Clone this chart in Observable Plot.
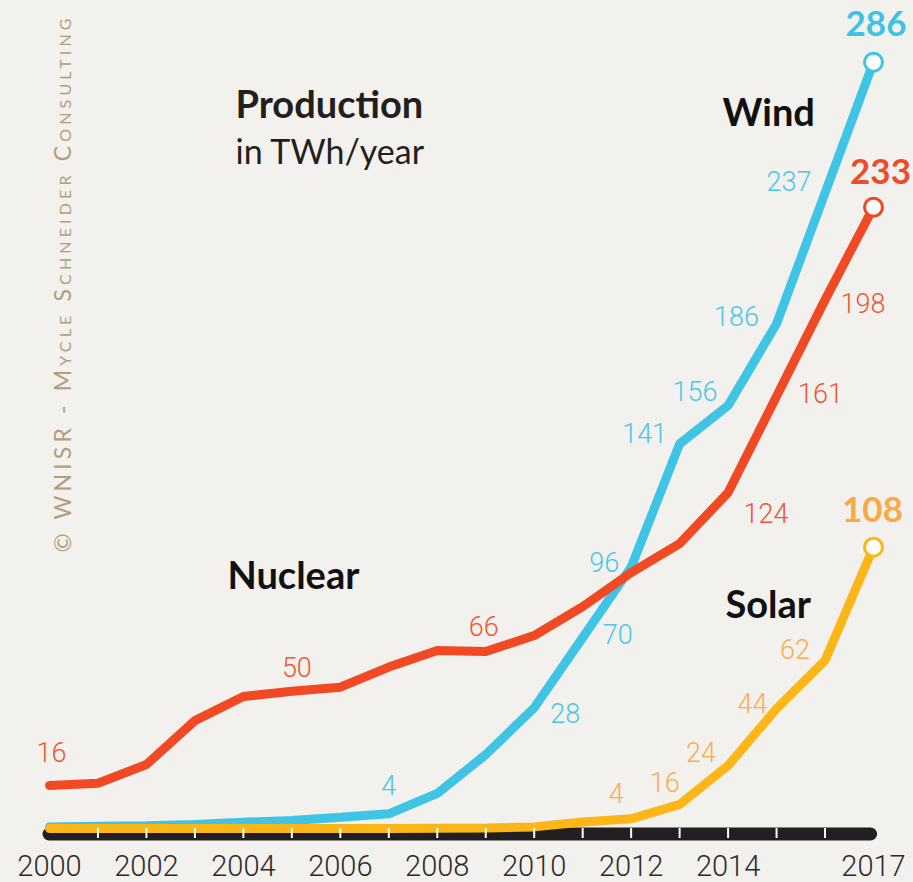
<!DOCTYPE html>
<html><head><meta charset="utf-8">
<script src="https://cdn.jsdelivr.net/npm/d3@7"></script>
<script src="https://cdn.jsdelivr.net/npm/@observablehq/plot@0.6"></script>
<style>
html,body{margin:0;padding:0;background:#f2f1ed;}
#chart{width:913px;height:882px;}
</style></head><body><div id="chart"></div>
<script>
// ---- data (TWh/year) ----
const years   = [2000,2001,2002,2003,2004,2005,2006,2007,2008,2009,2010,2011,2012,2013,2014,2015,2016,2017];
const nuclear = [16.1,16.9,23.9,40.3,49.3,51.3,52.8,60.3,66.5,66.1,72.1,82.9,95.6,106.4,125.5,161.5,197.5,232.1];
const wind    = [0.6,0.8,1.0,1.5,2.3,3.0,4.2,5.5,13.1,27.6,45.1,71.3,97.6,143.7,158,188.6,237.4,286.3];
const solar   = [0,0,0,0,0,0,0,0,0.1,0.2,0.6,2.4,3.6,9,23.5,44.8,62.8,105.1];

const axisYears = [2000,2002,2004,2006,2008,2010,2012,2014,2017];
const tickYears = [2001,2002,2003,2004,2005,2006,2007,2008,2009,2010,2011,2012,2013,2014,2015,2016];

const nuclearLabels     = ["16","50","66","124","161","198"];
const nuclearLabelYears = [2000,2005,2009,2014,2015,2016];
const windLabels        = ["4","28","70","96","141","156","186","237"];
const windLabelYears    = [2007,2010,2011,2012,2013,2014,2015,2016];
const solarLabels       = ["4","16","24","44","62"];
const solarLabelYears   = [2012,2013,2014,2015,2016];
const endLabels = {Wind: "286", Nuclear: "233", Solar: "108"};

const seriesNames = ["Wind","Solar","Nuclear"];
const title = "Production";
const subtitle = "in TWh/year";
const credit = "© WNISR - Mycle Schneider Consulting";

// ---- styles / layout ----
const lineColor  = {Nuclear: "#f04923", Wind: "#3fc4e6", Solar: "#fbb718"};
const labelColor = {Nuclear: "#ef5635", Wind: "#4cc6e8", Solar: "#f8ad55"};
const endColor   = {Nuclear: "#ef4b2a", Wind: "#3ec3e6", Solar: "#f9aa45"};
const labelOffsets = {
  Nuclear: [[2,-32],[5,-23],[-2,-24],[38,22],[44,-2],[38,5]],
  Wind: [[0,-27],[31,7],[35,-2],[-27,-4],[-35,-10],[-33,-13],[-40,-6],[-36,-11]],
  Solar: [[-15,-25],[-15,-21],[-27,-12],[-24,-4],[-30,-10]]
};
const endOffsets = {Wind: [2.5,-37.5], Nuclear: [7,-34], Solar: [-1,-36]};
const numFont = "Roboto, 'Open Sans', sans-serif";
const titleFont = "Lato, 'Open Sans', sans-serif";
const pxPerUnit = 803 / 300; // plot height / y extent

const valuesOf = {Nuclear: nuclear, Wind: wind, Solar: solar};
const rows = seriesNames.flatMap(s => years.map((y,i) => ({series: s, year: y, value: valuesOf[s][i]})));
const valueAt = (s, y) => valuesOf[s][years.indexOf(y)];

function seriesLabels(s, texts, yrs) {
  return texts.map((t,i) => Plot.text([{year: yrs[i], value: valueAt(s, yrs[i]), t}], {
    x: "year", y: "value", text: "t", dx: labelOffsets[s][i][0], dy: labelOffsets[s][i][1],
    fill: labelColor[s], fontSize: 27, fontWeight: 300, fontFamily: numFont, lineAnchor: "middle", textAnchor: "middle"
  }));
}

const lastYear = years[years.length-1];
const firstYear = years[0];

const chart = Plot.plot({
  width: 913, height: 882,
  marginLeft: 49, marginRight: 40, marginTop: 25, marginBottom: 54,
  x: {type: "linear", domain: [firstYear, lastYear], axis: null},
  y: {domain: [0, 300], axis: null},
  style: {background: "#f2f1ed", overflow: "visible"},
  marks: [
    // baseline bar
    Plot.ruleY([0], {x1: () => firstYear, x2: () => lastYear - 0.05, stroke: "#231f20", strokeWidth: 13, strokeLinecap: "round", dy: 5.5}),
    // series lines
    ...seriesNames.map(s => Plot.line(rows.filter(d => d.series === s), {
      x: "year", y: "value", stroke: lineColor[s], strokeWidth: 9, strokeLinecap: "round", strokeLinejoin: "miter", curve: "linear"
    })),
    // white tick marks on the bar
    Plot.ruleX(tickYears, {x: d => d, y1: () => 0, y2: () => -10 / pxPerUnit, stroke: "#ffffff", strokeWidth: 2}),
    // end circles
    ...["Wind","Nuclear","Solar"].map(s => Plot.dot([{year: lastYear, value: valueAt(s, lastYear)}], {
      x: "year", y: "value", r: 9, fill: "#ffffff", stroke: lineColor[s], strokeWidth: 3
    })),
    // end value labels
    ...["Wind","Nuclear","Solar"].map(s => Plot.text([{year: lastYear, value: valueAt(s, lastYear), t: endLabels[s]}], {
      x: "year", y: "value", text: "t", dx: endOffsets[s][0], dy: endOffsets[s][1],
      fill: endColor[s], fontSize: 35, fontWeight: "bold", fontFamily: titleFont, lineAnchor: "middle", textAnchor: "middle"
    })),
    // value labels
    ...seriesLabels("Nuclear", nuclearLabels, nuclearLabelYears),
    ...seriesLabels("Wind", windLabels, windLabelYears),
    ...seriesLabels("Solar", solarLabels, solarLabelYears),
    // year labels
    Plot.text(axisYears, {x: d => d, y: 0, dy: 38, text: d => String(d), fill: "#2b2b2b", fontSize: 29, fontWeight: 300,
      fontFamily: numFont, lineAnchor: "middle", textAnchor: "middle"}),
    // titles
    Plot.text([title], {frameAnchor: "top-left", dx: 186, dy: 92, text: d => d, fontSize: 38, fontWeight: "bold",
      fontFamily: titleFont, fill: "#231f20", textAnchor: "start", lineAnchor: "bottom"}),
    Plot.text([subtitle], {frameAnchor: "top-left", dx: 186, dy: 138, text: d => d, fontSize: 34,
      fontFamily: titleFont, fill: "#231f20", textAnchor: "start", lineAnchor: "bottom"}),
    Plot.text(["Wind"], {frameAnchor: "top-left", dx: 673, dy: 100, text: d => d, fontSize: 38, fontWeight: "bold",
      fontFamily: titleFont, fill: "#111", textAnchor: "start", lineAnchor: "bottom"}),
    Plot.text(["Nuclear"], {frameAnchor: "top-left", dx: 178, dy: 563, text: d => d, fontSize: 38, fontWeight: "bold",
      fontFamily: titleFont, fill: "#111", textAnchor: "start", lineAnchor: "bottom"}),
    Plot.text(["Solar"], {frameAnchor: "top-left", dx: 676, dy: 592, text: d => d, fontSize: 38, fontWeight: "bold",
      fontFamily: titleFont, fill: "#111", textAnchor: "start", lineAnchor: "bottom"}),
    // credit
    Plot.text([credit], {frameAnchor: "top-left", dx: 21, dy: 260, rotate: -90, text: d => d, fontSize: 23,
      fontFamily: titleFont, fill: "#b09f7a", textAnchor: "middle", lineAnchor: "bottom"})
  ]
});
chart.querySelectorAll("text").forEach(t => {
  if (t.textContent.startsWith("©")) {
    t.setAttribute("textLength", 534);
    t.setAttribute("lengthAdjust", "spacing");
    t.style.fontVariant = "small-caps";
  }
});
document.getElementById("chart").appendChild(chart);
</script>
</body></html>
